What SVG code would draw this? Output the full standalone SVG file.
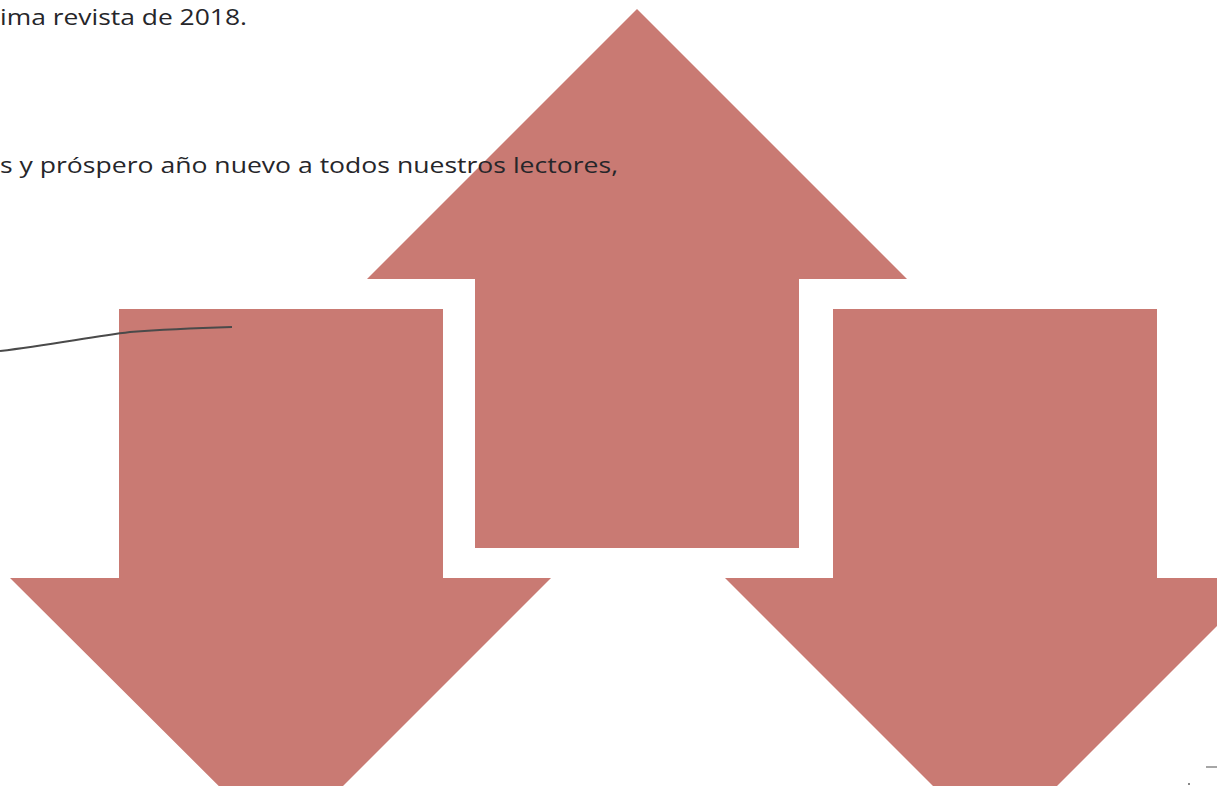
<svg xmlns="http://www.w3.org/2000/svg" width="1217" height="786" viewBox="0 0 1217 786">
<style>
.arrow{fill:#C97A73;}
.txt{font-family:"Open Sans","Liberation Sans",sans-serif;font-size:22px;fill:#26262a;}
</style>
<rect width="1217" height="786" fill="#ffffff"/>
<g id="arrow-up">
<polygon class="arrow" points="637,9 907,279 799,279 799,548 475,548 475,279 367,279"/>
</g>
<g id="arrow-down-left">
<polygon class="arrow" points="119,309 443,309 443,578 551,578 281,848 10,578 119,578"/>
</g>
<g id="arrow-down-right">
<polygon class="arrow" points="833,309 1157,309 1157,578 1265,578 995,848 725,578 833,578"/>
</g>
<g id="connectors">
<path d="M0,351 C50,345 90,337 130,332 C170,329 200,328 232,327" fill="none" stroke="#4a4a4a" stroke-width="2"/>
<path d="M1206,767 L1217,767" stroke="#888" stroke-width="1.5"/>
<rect x="1188" y="783" width="2" height="2" fill="#888"/>
</g>
<g id="texts">
<text class="txt" x="0" y="25" textLength="247" lengthAdjust="spacingAndGlyphs">ima revista de 2018.</text>
<text class="txt" x="0" y="173" textLength="618" lengthAdjust="spacingAndGlyphs">s y próspero año nuevo a todos nuestros lectores,</text>
</g>
</svg>
